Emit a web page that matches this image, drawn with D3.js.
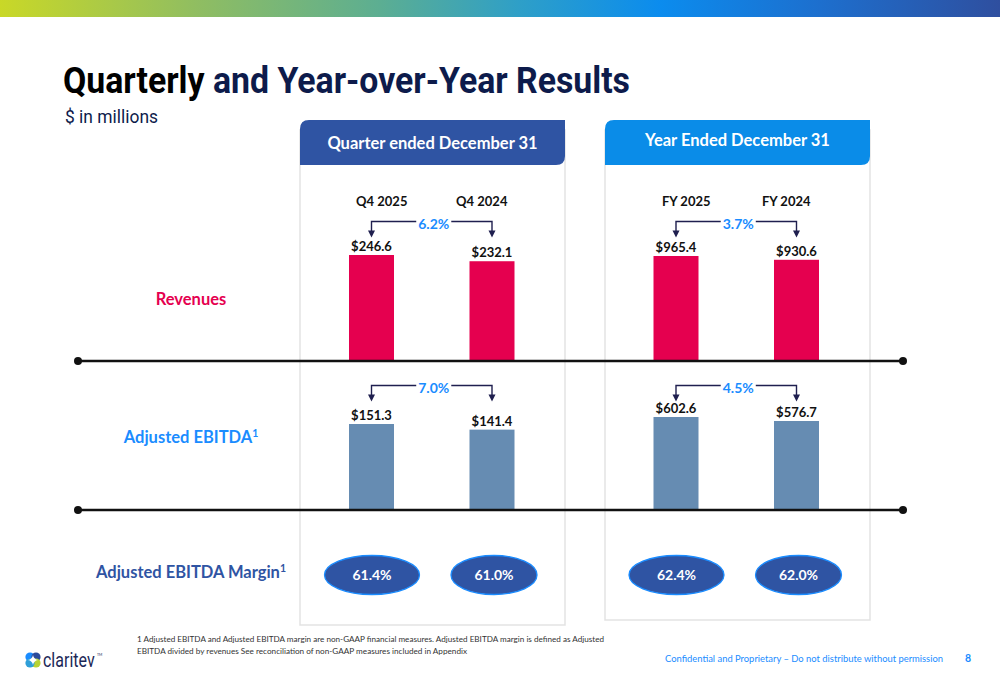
<!DOCTYPE html>
<html><head><meta charset="utf-8">
<script src="https://cdn.jsdelivr.net/npm/d3@7"></script>
<style>
html,body{margin:0;padding:0;background:#fff;}
svg{display:block;}
</style></head>
<body>
<svg id="chart" width="1000" height="685"></svg>
<script>
// ---------- DATA ----------
const quarterPeriods = ["Q4 2025", "Q4 2024"];
const yearPeriods = ["FY 2025", "FY 2024"];
const quarterRevenues = [246.6, 232.1];
const yearRevenues = [965.4, 930.6];
const quarterEbitda = [151.3, 141.4];
const yearEbitda = [602.6, 576.7];
const quarterMargins = [61.4, 61.0];
const yearMargins = [62.4, 62.0];
const revenueGrowth = [6.2, 3.7];   // quarter, year
const ebitdaGrowth = [7.0, 4.5];    // quarter, year
const panelTitles = ["Quarter ended December 31", "Year Ended December 31"];
const rowLabels = ["Revenues", "Adjusted EBITDA", "Adjusted EBITDA Margin"];

// ---------- LAYOUT ----------
const svg = d3.select("#chart");
const FONT = "Lato, 'Open Sans', sans-serif";
const NAVY = "#0d1b4b";
const RED = "#e5004f";
const BRIGHT = "#1a8cff";
const DARKBLUE = "#2f54a3";
const STEEL = "#668cb2";

// top gradient bar
const defs = svg.append("defs");
const grad = defs.append("linearGradient").attr("id", "topgrad").attr("x1", "0").attr("x2", "1").attr("y1", "0").attr("y2", "0");
[["0%", "#c9d827"], ["20%", "#8fbd62"], ["38%", "#5cae92"], ["52%", "#2e9fc8"], ["66%", "#0b8cee"], ["82%", "#1d6fce"], ["100%", "#2f4f9f"]]
  .forEach(([o, c]) => grad.append("stop").attr("offset", o).attr("stop-color", c));
svg.append("rect").attr("x", 0).attr("y", 0).attr("width", 1000).attr("height", 17).attr("fill", "url(#topgrad)");

// title
const title = svg.append("text").attr("x", 63).attr("y", 93)
  .attr("font-family", "Roboto, sans-serif").attr("font-weight", 700).attr("font-size", 37)
  .attr("textLength", 567).attr("lengthAdjust", "spacingAndGlyphs");
title.append("tspan").attr("fill", "#000").text("Quarterly");
title.append("tspan").attr("fill", NAVY).text(" and Year-over-Year Results");

svg.append("text").attr("x", 65).attr("y", 123)
  .attr("font-family", "Roboto, sans-serif").attr("font-weight", 400).attr("font-size", 19)
  .attr("fill", NAVY).attr("textLength", 93).attr("lengthAdjust", "spacingAndGlyphs")
  .text("$ in millions");

// panels
const panels = [
  { title: panelTitles[0], x0: 300, x1: 565, bottom: 625, color: DARKBLUE, periods: quarterPeriods,
    rev: quarterRevenues, ebitda: quarterEbitda, margins: quarterMargins, revG: revenueGrowth[0], ebG: ebitdaGrowth[0],
    centers: [371.5, 492], revH: 106, ebH: 86, titleY: 149 },
  { title: panelTitles[1], x0: 605, x1: 870, bottom: 620, color: "#0a8ce8", periods: yearPeriods,
    rev: yearRevenues, ebitda: yearEbitda, margins: yearMargins, revG: revenueGrowth[1], ebG: ebitdaGrowth[1],
    centers: [676, 796.5], revH: 105, ebH: 93, titleY: 146 }
];
const HEADER_TOP = 120, HEADER_BOT = 165;
const REV_BASE = 361, EB_BASE = 510;
const BAR_W = 45;

function headerPath(x0, x1, y0, y1, r) {
  return `M${x0},${y1} L${x0},${y0 + r} Q${x0},${y0} ${x0 + r},${y0} L${x1},${y0} L${x1},${y1 - r} Q${x1},${y1} ${x1 - r},${y1} Z`;
}

panels.forEach(p => {
  // gray outline
  svg.append("rect").attr("x", p.x0).attr("y", HEADER_TOP + 10).attr("width", p.x1 - p.x0)
    .attr("height", p.bottom - HEADER_TOP - 10).attr("fill", "none").attr("stroke", "#e3e3e3").attr("stroke-width", 1.5);
  svg.append("path").attr("d", headerPath(p.x0, p.x1, HEADER_TOP, HEADER_BOT, 9)).attr("fill", p.color);
  svg.append("text").attr("x", (p.x0 + p.x1) / 2).attr("y", p.titleY).attr("text-anchor", "middle")
    .attr("font-family", FONT).attr("font-weight", 700).attr("font-size", 16.5).attr("fill", "#fff").text(p.title);

  const mid = (p.centers[0] + p.centers[1]) / 2;
  const x = d3.scalePoint().domain(p.periods).range(p.centers);

  // column labels
  p.periods.forEach((per, i) => {
    svg.append("text").attr("x", mid + (i === 0 ? -50 : 50)).attr("y", 206).attr("text-anchor", "middle")
      .attr("font-family", FONT).attr("font-weight", 700).attr("font-size", 13).attr("fill", "#111").text(per);
  });

  const rows = [
    { vals: p.rev, base: REV_BASE, h: p.revH, color: RED, growth: p.revG, connY: REV_BASE - 139.5 },
    { vals: p.ebitda, base: EB_BASE, h: p.ebH, color: STEEL, growth: p.ebG, connY: EB_BASE - 124.5 }
  ];
  rows.forEach(r => {
    const y = d3.scaleLinear().domain([0, d3.max(r.vals)]).range([r.base, r.base - r.h]);
    const g = svg.append("g");
    g.selectAll("rect").data(r.vals).join("rect")
      .attr("x", (d, i) => x(p.periods[i]) - BAR_W / 2).attr("width", BAR_W)
      .attr("y", d => y(d)).attr("height", d => r.base - y(d)).attr("fill", r.color);
    g.selectAll("text.val").data(r.vals).join("text").attr("class", "val")
      .attr("x", (d, i) => x(p.periods[i])).attr("y", d => y(d) - 4).attr("text-anchor", "middle")
      .attr("font-family", FONT).attr("font-weight", 700).attr("font-size", 13).attr("fill", "#111")
      .text(d => "$" + d3.format(".1f")(d));

    // growth connector
    const xl = x(p.periods[0]), xr = x(p.periods[1]);
    const cy = r.connY, tip = cy + 16;
    const gt = svg.append("text").attr("x", mid + 2).attr("y", cy + 7).attr("text-anchor", "middle")
      .attr("font-family", FONT).attr("font-weight", 700).attr("font-size", 14).attr("fill", BRIGHT)
      .text(d3.format(".1f")(r.growth) + "%");
    const tw = gt.node().getComputedTextLength();
    const lc = "#1f1f4f";
    svg.append("path").attr("d", `M${xl},${tip - 6} L${xl},${cy} L${mid + 2 - tw / 2 - 2},${cy}`)
      .attr("fill", "none").attr("stroke", lc).attr("stroke-width", 1.4);
    svg.append("path").attr("d", `M${mid + 2 + tw / 2 + 2},${cy} L${xr},${cy} L${xr},${tip - 6}`)
      .attr("fill", "none").attr("stroke", lc).attr("stroke-width", 1.4);
    [xl, xr].forEach(xx => {
      svg.append("path").attr("d", `M${xx - 3.5},${tip - 7} L${xx + 3.5},${tip - 7} L${xx},${tip} Z`).attr("fill", lc);
    });
  });

  // margins ellipses
  p.margins.forEach((m, i) => {
    const cx = x(p.periods[i]) + (i === 0 ? 0.5 : 2);
    const rx = i === 0 ? 47.5 : 43;
    svg.append("ellipse").attr("cx", cx).attr("cy", 575).attr("rx", rx).attr("ry", 19.5)
      .attr("fill", DARKBLUE).attr("stroke", BRIGHT).attr("stroke-width", 1.3);
    svg.append("text").attr("x", cx).attr("y", 580).attr("text-anchor", "middle")
      .attr("font-family", FONT).attr("font-weight", 700).attr("font-size", 14).attr("fill", "#fff")
      .text(d3.format(".1f")(m) + "%");
  });
});

// horizontal separator lines
[REV_BASE, EB_BASE].forEach(yy => {
  svg.append("line").attr("x1", 78).attr("x2", 903).attr("y1", yy).attr("y2", yy)
    .attr("stroke", "#111").attr("stroke-width", 2.4);
  [78, 903].forEach(xx => svg.append("circle").attr("cx", xx).attr("cy", yy).attr("r", 4).attr("fill", "#111"));
});

// row labels
const rowDefs = [
  { text: rowLabels[0], y: 305, color: RED, sup: false },
  { text: rowLabels[1], y: 443, color: BRIGHT, sup: true },
  { text: rowLabels[2], y: 578, color: DARKBLUE, sup: true }
];
rowDefs.forEach(r => {
  const t = svg.append("text").attr("x", 191).attr("y", r.y).attr("text-anchor", "middle")
    .attr("font-family", FONT).attr("font-weight", 700).attr("font-size", 16.5).attr("fill", r.color);
  t.append("tspan").text(r.text);
  if (r.sup) t.append("tspan").attr("font-size", 10.5).attr("dy", -6).text("1");
});

// footnote
const foot = svg.append("text").attr("font-family", FONT).attr("font-size", 8.2).attr("fill", "#333");
foot.append("tspan").attr("x", 137).attr("y", 642).attr("textLength", 467).attr("lengthAdjust", "spacingAndGlyphs")
  .text("1 Adjusted EBITDA and Adjusted EBITDA margin are non-GAAP financial measures. Adjusted EBITDA margin is defined as Adjusted");
foot.append("tspan").attr("x", 137).attr("y", 654).attr("textLength", 330).attr("lengthAdjust", "spacingAndGlyphs")
  .text("EBITDA divided by revenues See reconciliation of non-GAAP measures included in Appendix");

svg.append("text").attr("x", 665).attr("y", 662).attr("font-family", FONT).attr("font-size", 10)
  .attr("fill", BRIGHT).attr("textLength", 278).attr("lengthAdjust", "spacingAndGlyphs")
  .text("Confidential and Proprietary – Do not distribute without permission");
svg.append("text").attr("x", 965).attr("y", 662).attr("font-family", FONT).attr("font-size", 10.5)
  .attr("font-weight", 700).attr("fill", BRIGHT).text("8");

// logo
const logo = svg.append("g").attr("transform", "translate(33,660)");
[[-3, -3, BRIGHT], [3, -3, "#2b4b9b"], [3, 3, "#b6d334"], [-3, 3, "#2f9fd8"]].forEach(([dx, dy, c]) =>
  logo.append("circle").attr("cx", dx).attr("cy", dy).attr("r", 4.6).attr("fill", c));
logo.append("path").attr("d", "M0,-5 Q0.8,-0.8 5,0 Q0.8,0.8 0,5 Q-0.8,0.8 -5,0 Q-0.8,-0.8 0,-5 Z").attr("fill", "#fff");
svg.append("g").attr("transform", "translate(43,667) scale(1,1.3)")
  .append("text").attr("x", 0).attr("y", 0).attr("font-family", "Roboto, sans-serif").attr("font-size", 16)
  .attr("fill", "#1b2757").text("claritev");
svg.append("text").attr("x", 97).attr("y", 656).attr("font-family", FONT).attr("font-size", 3.5)
  .attr("fill", "#1b2757").text("TM");
</script>
</body></html>
